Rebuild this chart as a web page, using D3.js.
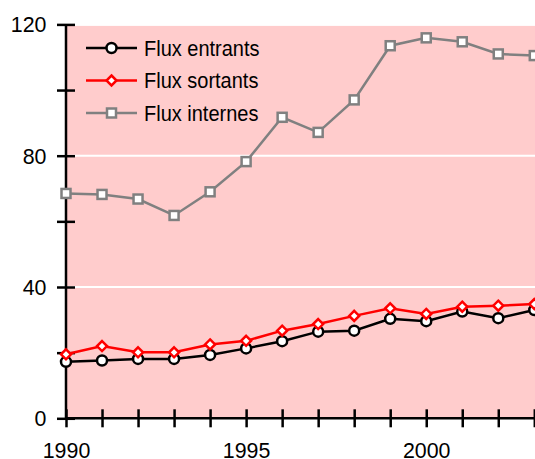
<!DOCTYPE html>
<html lang="fr">
<head>
<meta charset="UTF-8"/>
<title>Flux</title>
<script src="https://d3js.org/d3.v7.min.js"></script>
<style>
    body { margin: 0; background: #fff; }
    svg { display: block; }
    text { font-family: "Liberation Sans", Arial, sans-serif; fill: #000; }
</style>
</head>
<body>
<script>
    // data
    var years = [1990,1991,1992,1993,1994,1995,1996,1997,1998,1999,2000,2001,2002,2003];
    var entrants = [17.2,17.6,18.1,18.1,19.3,21.3,23.5,26.4,26.7,30.3,29.6,32.5,30.5,33.0];
    var sortants = [19.5,22.0,20.1,20.1,22.5,23.6,26.7,28.7,31.2,33.5,31.8,34.0,34.3,34.8];
    var internes = [68.5,68.2,66.8,61.8,69.0,78.2,91.7,87.1,97.0,113.5,115.9,114.7,111.0,110.5];
    var seriesNames = ["Flux entrants","Flux sortants","Flux internes"];
    var yTicks = [0,20,40,60,80,100,120];
    var yLabels = [0,40,80,120];
    var xLabels = [1990,1995,2000];

    var w = 535, h = 459;
    var squeeze = 0.93; // no narrow font installed, so condense by hand

    var xScale = d3.scaleLinear()
                    .domain([1990, 2003])
                    .range([66, 534.3]);
    var yScale = d3.scaleLinear()
                    .domain([0, 120])
                    .range([418.3, 24.4]);

    var svg = d3.select("body")
                .append("svg")
                .attr("width", w)
                .attr("height", h);

    // pink plot area
    svg.append("rect")
        .attr("x", xScale(1990) + 1)
        .attr("y", yScale(120) + 1.5)
        .attr("width", w)
        .attr("height", yScale(0) - yScale(120) - 1.5)
        .attr("fill", "#ffcccc");

    // white gridlines
    svg.selectAll("line.grid")
        .data([40, 80])
        .enter()
        .append("line")
        .attr("class", "grid")
        .attr("x1", xScale(1990) + 1)
        .attr("x2", w)
        .attr("y1", function(d) { return yScale(d); })
        .attr("y2", function(d) { return yScale(d); })
        .attr("stroke", "#fff")
        .attr("stroke-width", 2);

    // Y axis
    var yAxis = d3.axisLeft(yScale)
                    .tickValues(yTicks)
                    .tickSizeInner(9)
                    .tickSizeOuter(0)
                    .tickPadding(12)
                    .tickFormat(function(d) { return yLabels.indexOf(d) >= 0 ? d : ""; });
    var gy = svg.append("g")
        .attr("transform", "translate(" + xScale(1990) + ",0)")
        .call(yAxis);
    gy.selectAll(".tick line").attr("x2", -9).attr("x1", 9);

    // X axis
    var xAxis = d3.axisBottom(xScale)
                    .tickValues(years)
                    .tickSizeInner(9)
                    .tickSizeOuter(0)
                    .tickPadding(14)
                    .tickFormat(function(d) { return xLabels.indexOf(d) >= 0 ? d : ""; });
    var gx = svg.append("g")
        .attr("transform", "translate(0," + yScale(0) + ")")
        .call(xAxis);
    gx.selectAll(".tick line").attr("y1", -9).attr("y2", 9);
    gx.select(".domain").attr("d", "M" + xScale(1990) + ",0H" + (w + 10));

    [gx, gy].forEach(function(g) {
        g.selectAll(".domain, .tick line").attr("stroke", "#000").attr("stroke-width", 2.5);
        g.selectAll("text").attr("font-size", 23).attr("fill", "#000")
            .style("font-family", "'Liberation Sans', Arial, sans-serif")
            .attr("transform", "scale(" + squeeze + ",1)");
    });
    gy.select(".domain").attr("d", "M0," + yScale(120) + "V" + yScale(0));

    // series
    var series = [
        { name: seriesNames[0], values: entrants, color: "#000", shape: "circle" },
        { name: seriesNames[1], values: sortants, color: "#ff0000", shape: "diamond" },
        { name: seriesNames[2], values: internes, color: "#808080", shape: "square" }
    ];

    var line = d3.line()
                .x(function(d, i) { return xScale(years[i]); })
                .y(function(d) { return yScale(d); });

    function drawMarker(g, shape, color, x, y) {
        if (shape === "circle") {
            g.append("circle").attr("cx", x).attr("cy", y).attr("r", 5)
                .attr("fill", "#fff").attr("stroke", color).attr("stroke-width", 2.5);
        } else if (shape === "diamond") {
            g.append("path")
                .attr("d", "M" + x + "," + (y - 5) + "L" + (x + 5) + "," + y + "L" + x + "," + (y + 5) + "L" + (x - 5) + "," + y + "Z")
                .attr("fill", "#fff").attr("stroke", color).attr("stroke-width", 2.5);
        } else {
            g.append("rect").attr("x", x - 4.5).attr("y", y - 4.5).attr("width", 9).attr("height", 9)
                .attr("fill", "#fff").attr("stroke", color).attr("stroke-width", 2.5);
        }
    }

    // internes first, then entrants, red on top
    [series[2], series[0], series[1]].forEach(function(s) {
        var g = svg.append("g");
        g.append("path")
            .datum(s.values)
            .attr("d", line)
            .attr("fill", "none")
            .attr("stroke", s.color)
            .attr("stroke-width", 2.5);
        s.values.forEach(function(v, i) {
            drawMarker(g, s.shape, s.color, xScale(years[i]), yScale(v));
        });
    });

    // legend
    var legend = svg.append("g");
    series.forEach(function(s, i) {
        var y = 48 + i * 32.5;
        legend.append("line")
            .attr("x1", 86).attr("x2", 137)
            .attr("y1", y).attr("y2", y)
            .attr("stroke", s.color).attr("stroke-width", 2.5);
        drawMarker(legend, s.shape, s.color, 111.5, y);
        legend.append("text")
            .attr("transform", "translate(144," + (y + 7.5) + ") scale(" + squeeze + ",1)")
            .attr("font-size", 21.5)
            .text(s.name);
    });
</script>
</body>
</html>
